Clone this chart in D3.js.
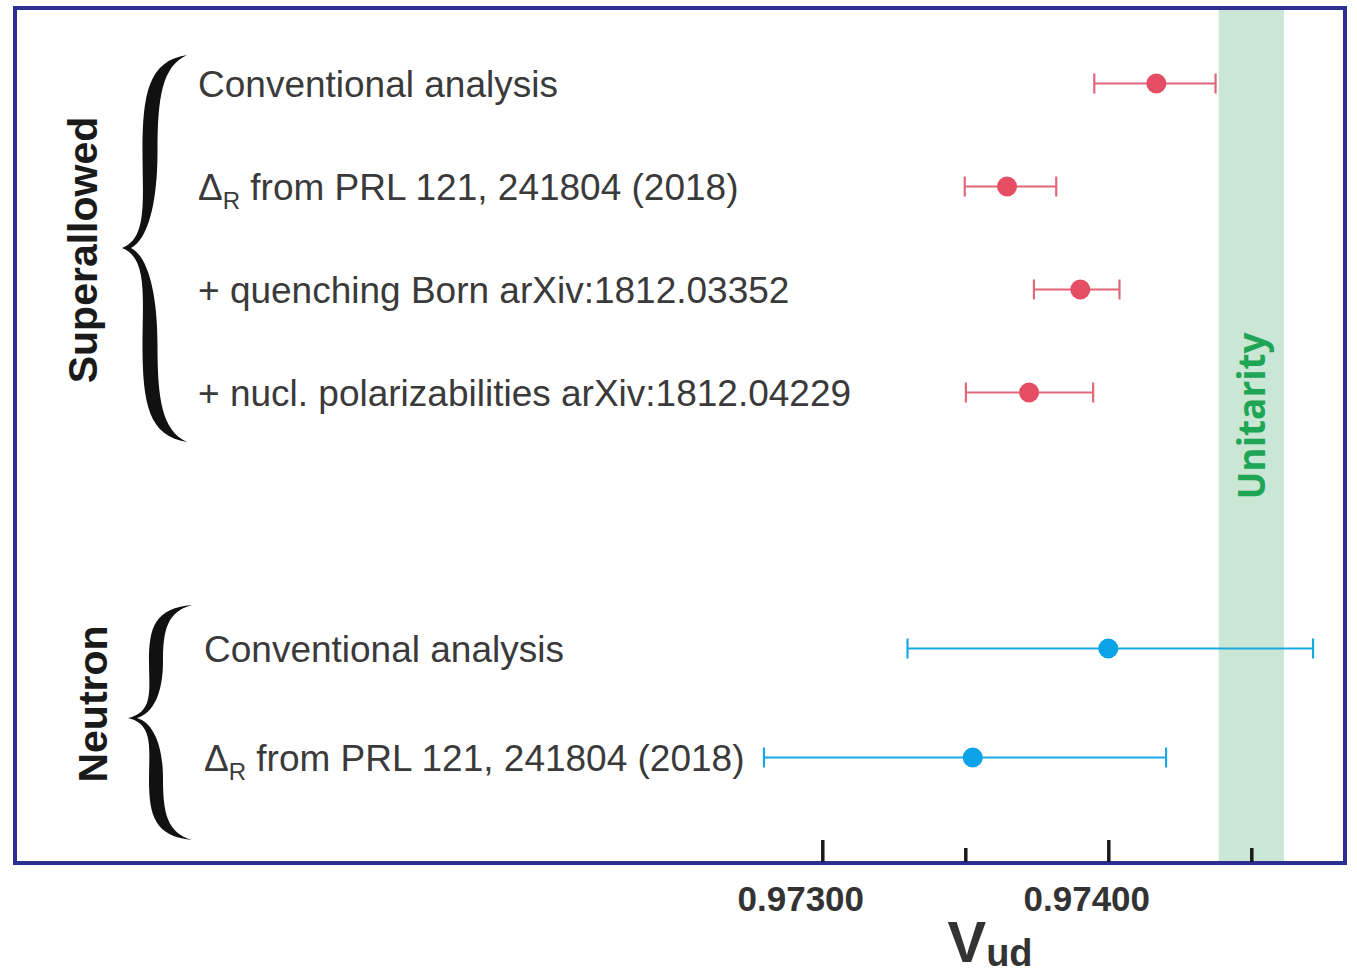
<!DOCTYPE html>
<html>
<head>
<meta charset="utf-8">
<script src="https://cdn.jsdelivr.net/npm/d3@7"></script>
<style>
  html, body { margin: 0; padding: 0; background: #ffffff; }
  svg { display: block; font-family: "Liberation Sans", Arial, Helvetica, sans-serif; }
</style>
</head>
<body>
<svg id="chart" width="1357" height="976"></svg>
<script>
// ---- data -------------------------------------------------------------
const superLabels = [
  "Conventional analysis",
  "Δ_R from PRL 121, 241804 (2018)",
  "+ quenching Born arXiv:1812.03352",
  "+ nucl. polarizabilities arXiv:1812.04229"
];
const superValues = [0.974168, 0.973646, 0.973902, 0.973723];
const superLower  = [0.973951, 0.973498, 0.973740, 0.973502];
const superUpper  = [0.974375, 0.973818, 0.974039, 0.973947];

const neutronLabels = [
  "Conventional analysis",
  "Δ_R from PRL 121, 241804 (2018)"
];
const neutronValues = [0.974000, 0.973526];
const neutronLower  = [0.973298, 0.972796];
const neutronUpper  = [0.974716, 0.974202];

const unitarityRange = [0.974386, 0.974614];

const majorTicks = [0.97300, 0.97400];
const minorTicks = [0.97350, 0.97450];
const tickLabels = ["0.97300", "0.97400"];

// ---- layout -----------------------------------------------------------
const svg = d3.select("#chart");
const frame = { left: 15, top: 8, right: 1345, bottom: 863 };

const x = d3.scaleLinear().domain([0.97300, 0.97400]).range([822.3, 1108.3]);

const groups = [
  {
    name: "Superallowed", labels: superLabels, values: superValues,
    lower: superLower, upper: superUpper,
    color: "#e44d64", barColor: "#e0677a",
    yRange: [32, 444], labelX: 198,
    brace: { E: 187, S: 150, T: 122, yTop: 55, yTip: 248, yBot: 442, w: 7.5 },
    title: { x: 97, y: 250 }
  },
  {
    name: "Neutron", labels: neutronLabels, values: neutronValues,
    lower: neutronLower, upper: neutronUpper,
    color: "#0aa3e8", barColor: "#1aa8e2",
    yRange: [594, 812], labelX: 204,
    brace: { E: 192, S: 156, T: 128, yTop: 605, yTip: 718, yBot: 840, w: 7 },
    title: { x: 107, y: 704 }
  }
];

// Unitarity band
svg.append("rect")
  .attr("x", x(unitarityRange[0]))
  .attr("y", frame.top)
  .attr("width", x(unitarityRange[1]) - x(unitarityRange[0]))
  .attr("height", frame.bottom - frame.top)
  .attr("fill", "#c9e7d4");

svg.append("text")
  .attr("transform", `translate(1265, 416) rotate(-90)`)
  .attr("text-anchor", "middle")
  .attr("font-family", "'Open Sans', 'Liberation Sans', sans-serif")
  .attr("font-weight", 700)
  .attr("font-size", 37)
  .attr("fill", "#1ea555")
  .text("Unitarity");

// Curly brace as a filled outline
function bracePath(b) {
  const { E, S, T, yTop, yTip, yBot, w } = b;
  const h1 = yTip - yTop, h2 = yBot - yTip;
  const yA = (yTop + yTip) / 2, yB = (yTip + yBot) / 2;
  const p = d3.path();
  // outer edge, top to bottom
  p.moveTo(E, yTop);
  p.bezierCurveTo(S - w * 0.2, yTop + 0.03 * h1, S - w, yTop + 0.2 * h1, S - w, yA);
  p.bezierCurveTo(S - w, yTip - 0.25 * h1, S - w * 0.3, yTip - 0.05 * h1, T, yTip);
  p.bezierCurveTo(S - w * 0.3, yTip + 0.05 * h2, S - w, yTip + 0.25 * h2, S - w, yB);
  p.bezierCurveTo(S - w, yBot - 0.2 * h2, S - w * 0.2, yBot - 0.03 * h2, E, yBot);
  // inner edge, bottom back to top
  p.bezierCurveTo(S + w * 1.6, yBot - 0.06 * h2, S + w, yBot - 0.22 * h2, S + w, yB);
  p.bezierCurveTo(S + w, yTip + 0.22 * h2, S - w * 0.4, yTip + 0.04 * h2, T + 9, yTip);
  p.bezierCurveTo(S - w * 0.4, yTip - 0.04 * h1, S + w, yTip - 0.22 * h1, S + w, yA);
  p.bezierCurveTo(S + w, yTop + 0.22 * h1, S + w * 1.6, yTop + 0.06 * h1, E, yTop);
  p.closePath();
  return p.toString();
}

// Row label: "Δ_R" becomes Δ with a subscript R
function drawLabel(sel, label) {
  if (label.startsWith("Δ_R")) {
    sel.append("tspan").text("Δ");
    sel.append("tspan").attr("font-size", 24).attr("dy", 9).text("R");
    sel.append("tspan").attr("dy", -9).text(label.slice(3));
  } else {
    sel.text(label);
  }
}

groups.forEach(g => {
  const y = d3.scalePoint()
    .domain(d3.range(g.labels.length))
    .range(g.yRange)
    .padding(0.5);

  svg.append("path")
    .attr("d", bracePath(g.brace))
    .attr("fill", "#111111");

  svg.append("text")
    .attr("transform", `translate(${g.title.x}, ${g.title.y}) rotate(-90)`)
    .attr("text-anchor", "middle")
    .attr("font-weight", 700)
    .attr("font-size", 41)
    .attr("fill", "#1a1a1a")
    .text(g.name);

  const rows = svg.append("g").selectAll("g")
    .data(g.labels.map((label, i) => ({
      label, i, v: g.values[i], lo: g.lower[i], hi: g.upper[i]
    })))
    .join("g");

  rows.append("text")
    .attr("x", g.labelX)
    .attr("y", d => y(d.i) + 13)
    .attr("font-size", 37)
    .attr("fill", "#3a3a3a")
    .each(function (d) { drawLabel(d3.select(this), d.label); });

  rows.append("line")
    .attr("x1", d => x(d.lo)).attr("x2", d => x(d.hi))
    .attr("y1", d => y(d.i)).attr("y2", d => y(d.i))
    .attr("stroke", g.barColor).attr("stroke-width", 2.2);

  ["lo", "hi"].forEach(k => {
    rows.append("line")
      .attr("x1", d => x(d[k])).attr("x2", d => x(d[k]))
      .attr("y1", d => y(d.i) - 10).attr("y2", d => y(d.i) + 10)
      .attr("stroke", g.barColor).attr("stroke-width", 2.2);
  });

  rows.append("circle")
    .attr("cx", d => x(d.v))
    .attr("cy", d => y(d.i))
    .attr("r", 10)
    .attr("fill", g.color);
});

// Frame
svg.append("rect")
  .attr("x", frame.left).attr("y", frame.top)
  .attr("width", frame.right - frame.left)
  .attr("height", frame.bottom - frame.top)
  .attr("fill", "none")
  .attr("stroke", "#2c2f8f")
  .attr("stroke-width", 4);

// Axis: inward ticks on the bottom edge, labels below
const majorAxis = d3.axisBottom(x)
  .tickValues(majorTicks)
  .tickSize(-22)
  .tickPadding(24)
  .tickFormat((d, i) => tickLabels[i]);

const axisG = svg.append("g")
  .attr("transform", `translate(0, ${frame.bottom - 1})`)
  .call(majorAxis);
axisG.select(".domain").remove();
axisG.selectAll(".tick line").attr("stroke", "#1a1a1a").attr("stroke-width", 3.5);
axisG.selectAll(".tick text")
  .attr("font-family", "'Liberation Sans', Arial, sans-serif")
  .attr("font-size", 35)
  .attr("font-weight", 700)
  .attr("fill", "#333333")
  .attr("dx", -22);

const minorAxis = d3.axisBottom(x)
  .tickValues(minorTicks)
  .tickSize(-14)
  .tickFormat("");
const minorG = svg.append("g")
  .attr("transform", `translate(0, ${frame.bottom - 1})`)
  .call(minorAxis);
minorG.select(".domain").remove();
minorG.selectAll(".tick line").attr("stroke", "#1a1a1a").attr("stroke-width", 3.5);

// Axis title V_ud
const title = svg.append("text")
  .attr("x", 990)
  .attr("y", 962)
  .attr("text-anchor", "middle")
  .attr("font-weight", 700)
  .attr("fill", "#333333");
title.append("tspan").attr("font-size", 58).text("V");
title.append("tspan").attr("font-size", 38).attr("dy", 4).text("ud");
</script>
</body>
</html>
